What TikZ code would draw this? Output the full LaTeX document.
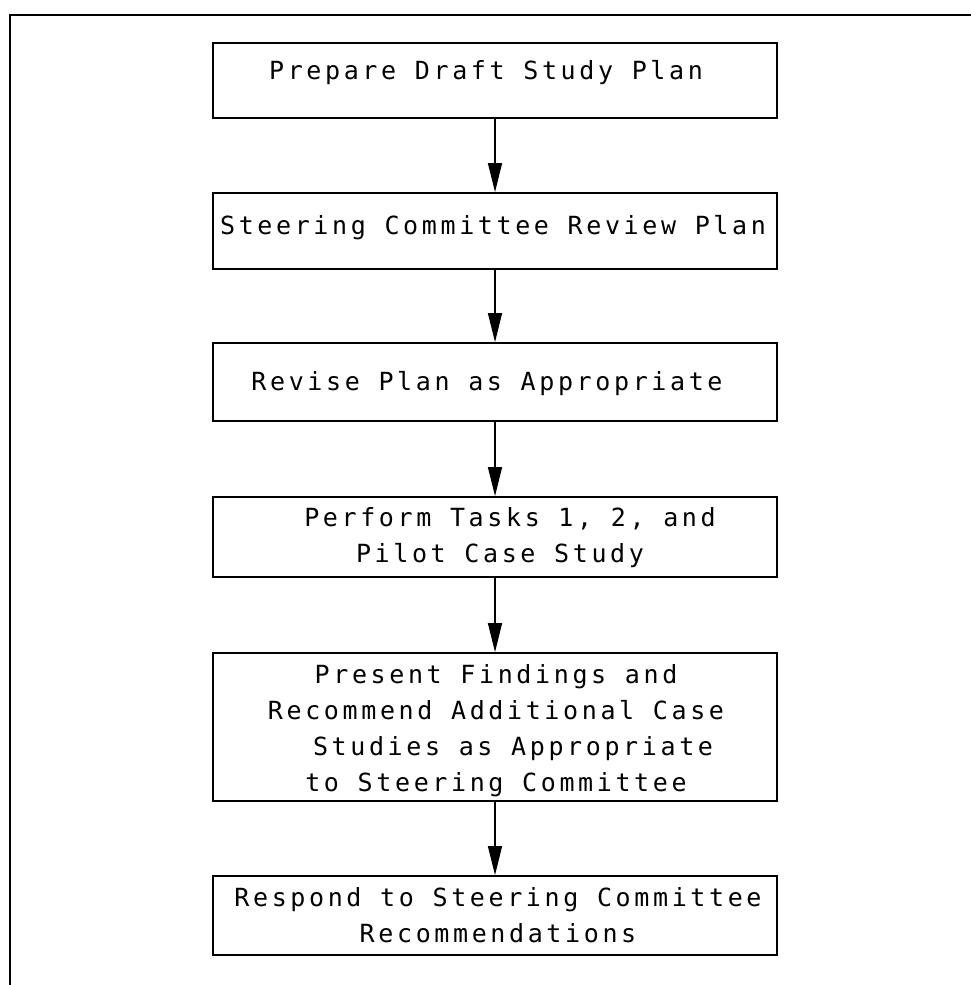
\documentclass[tikz,border=0pt]{standalone}
\usepackage{fontspec}
\usetikzlibrary{arrows.meta}
\newfontfamily\plotfont[LetterSpace=14.5]{DejaVu Sans Mono}
\begin{document}
\begin{tikzpicture}[x=1pt,y=-1pt,
  frame/.style={line width=2pt},
  box/.style={draw,line width=1.8pt,rectangle,inner sep=0pt,minimum width=564pt},
  txt/.style={inner sep=0pt,align=center,font={\plotfont\fontsize{25}{36}\selectfont}},
  flow/.style={line width=1.5pt,-{Triangle[length=29pt,width=14pt]}}]
\useasboundingbox (0,0) rectangle (971,985);
% frame (top and left sides only)
\coordinate (fa) at (10,985);
\coordinate (fb) at (10,15);
\coordinate (fc) at (971,15);
\draw[frame] (fa) -- (fb) -- (fc);
% boxes
\node[box,minimum height=75pt] (b1) at (495,80.5) {};
\node[box,minimum height=76pt] (b2) at (495,231) {};
\node[box,minimum height=78pt] (b3) at (495,382) {};
\node[box,minimum height=80pt] (b4) at (495,537) {};
\node[box,minimum height=148pt] (b5) at (495,727) {};
\node[box,minimum height=79pt] (b6) at (495,915.5) {};
% texts
\node[txt] (t1) at (486,73) {Prepare Draft Study Plan};
\node[txt] (t2) at (493,228) {Steering Committee Review Plan};
\node[txt] (t3) at (487,384) {Revise Plan as Appropriate};
\node[txt] (t4) at (500,538) {\hspace*{20pt}Perform Tasks 1, 2, and\\Pilot Case Study};
\node[txt] (t5) at (496,731) {Present Findings and\\Recommend Additional Case\\\hspace*{34pt}Studies as Appropriate\\to Steering Committee};
\node[txt] (t6) at (498,915) {Respond to Steering Committee\\Recommendations};
% connectors
\draw[flow] (b1) -- (b2);
\draw[flow] (b2) -- (b3);
\draw[flow] (b3) -- (b4);
\draw[flow] (b4) -- (b5);
\draw[flow] (b5) -- (b6);
\end{tikzpicture}
\end{document}
